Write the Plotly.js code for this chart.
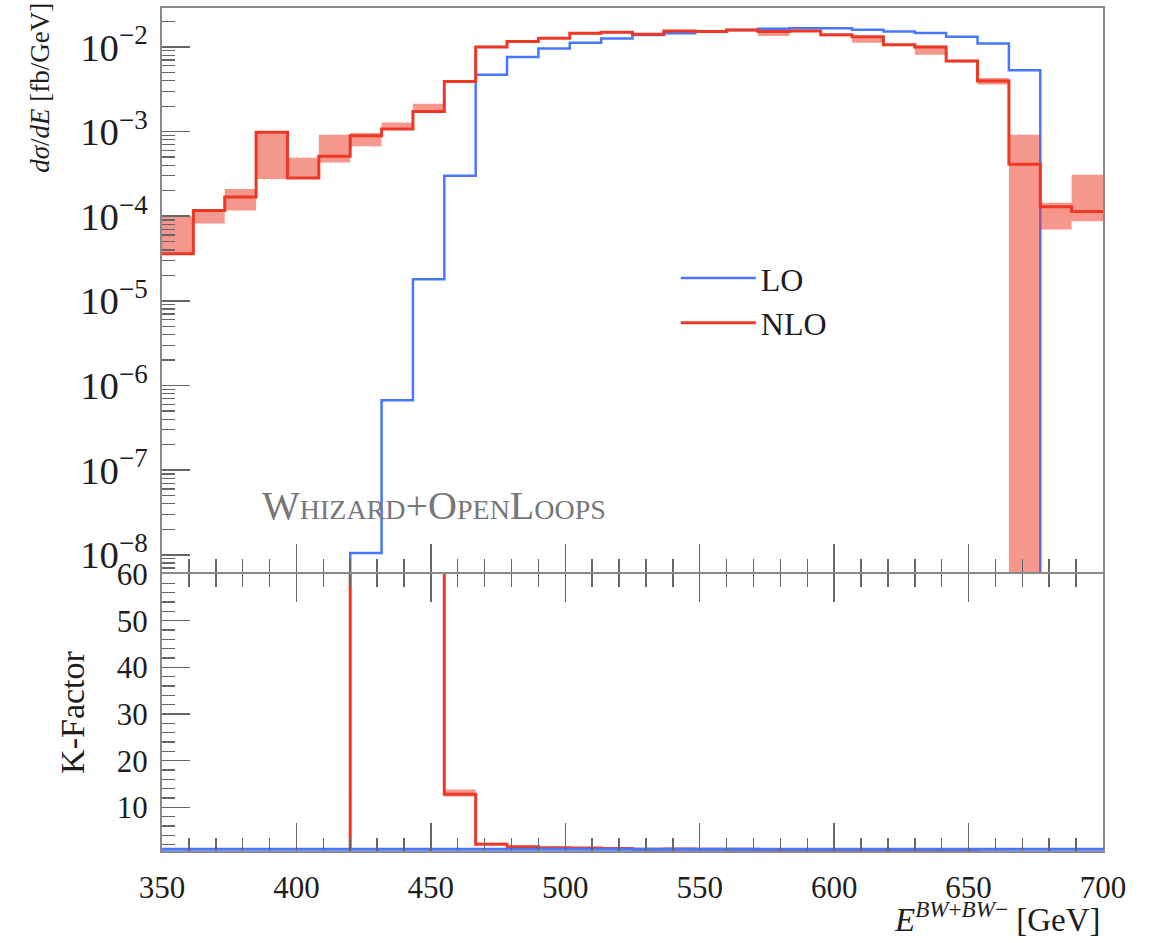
<!DOCTYPE html>
<html>
<head>
<meta charset="utf-8">
<script src="https://cdn.plot.ly/plotly-3.0.1.min.js"></script>
<style>html,body{margin:0;padding:0;background:#fff;}#plot{width:1154px;height:943px;}</style>
</head>
<body>
<div id="plot"></div>
<script>
// ---- binning ----
const eLow = 350, eHigh = 700, nBins = 30;

// ---- LO differential cross section [fb/GeV] (0 = empty bin) ----
const loValues = [0, 0, 0, 0, 0, 0, 1.05e-8, 6.7e-7, 1.8e-5, 3.0e-4,
  4.7e-3, 7.6e-3, 9.6e-3, 1.12e-2, 1.26e-2, 1.38e-2, 1.45e-2, 1.52e-2, 1.58e-2, 1.64e-2,
  1.66e-2, 1.66e-2, 1.60e-2, 1.52e-2, 1.46e-2, 1.32e-2, 1.10e-2, 5.3e-3, 0, 0];

// ---- NLO differential cross section [fb/GeV] with scale band ----
const nloValues = [3.6e-5, 1.17e-4, 1.69e-4, 9.8e-4, 2.83e-4, 5.1e-4, 8.9e-4, 1.07e-3, 1.73e-3, 3.9e-3,
  1.0e-2, 1.16e-2, 1.27e-2, 1.45e-2, 1.49e-2, 1.41e-2, 1.54e-2, 1.52e-2, 1.59e-2, 1.52e-2,
  1.54e-2, 1.39e-2, 1.32e-2, 1.06e-2, 1.0e-2, 6.8e-3, 3.97e-3, 4.1e-4, 1.29e-4, 1.14e-4];
const nloLow = [3.6e-5, 8.2e-5, 1.17e-4, 2.75e-4, 2.83e-4, 4.3e-4, 6.7e-4, 1.07e-3, 1.73e-3, 3.75e-3,
  0.97e-2, 1.13e-2, 1.24e-2, 1.41e-2, 1.45e-2, 1.37e-2, 1.50e-2, 1.46e-2, 1.53e-2, 1.35e-2,
  1.50e-2, 1.34e-2, 1.12e-2, 1.03e-2, 8.1e-3, 6.6e-3, 3.6e-3, 1e-12, 6.95e-5, 8.7e-5];
const nloHigh = [1.0e-4, 1.17e-4, 2.1e-4, 9.8e-4, 4.9e-4, 9.2e-4, 9.6e-4, 1.28e-3, 2.13e-3, 4.05e-3,
  1.03e-2, 1.19e-2, 1.30e-2, 1.49e-2, 1.53e-2, 1.45e-2, 1.58e-2, 1.56e-2, 1.63e-2, 1.56e-2,
  1.58e-2, 1.42e-2, 1.35e-2, 1.09e-2, 1.03e-2, 7.0e-3, 4.3e-3, 9.2e-4, 1.44e-4, 3.1e-4];

// ---- K-factor (NLO/LO); 0 where undefined ----
const kLO = Array(30).fill(1);
const kNLO = [0, 0, 0, 0, 0, 0, 85000, 1600, 96, 12.8,
  2.1, 1.55, 1.32, 1.29, 1.18, 1.02, 1.06, 1.0, 1.0, 0.93,
  0.92, 0.84, 0.83, 0.70, 0.68, 0.52, 0.36, 0.077, 0, 0];
const kNLOLow = [0, 0, 0, 0, 0, 0, 85000, 1600, 96, 12.3,
  2.0, 1.50, 1.28, 1.25, 1.14, 0.99, 1.03, 0.97, 0.97, 0.86,
  0.89, 0.81, 0.70, 0.68, 0.56, 0.50, 0.33, 0.0, 0, 0];
const kNLOHigh = [0, 0, 0, 0, 0, 0, 85000, 1600, 96, 13.8,
  2.4, 1.60, 1.36, 1.33, 1.22, 1.05, 1.09, 1.03, 1.03, 0.95,
  0.95, 0.86, 0.85, 0.72, 0.70, 0.54, 0.39, 0.17, 0, 0];

const legendLabels = ['LO', 'NLO'];

// ---- helpers ----
const edges = Array.from({length: nBins + 1}, (_, i) => eLow + i * (eHigh - eLow) / nBins);
const step = v => v.concat([v[v.length - 1]]);
const LOGFLOOR = 1e-12;
const logSafe = v => v.map(x => (x > 0 ? x : LOGFLOOR));

const BLUE = 'rgb(72,118,255)';
const RED = 'rgb(236,56,36)';
const BAND = 'rgba(236,56,36,0.52)';
const AXC = '#8a8a8a';
const TXT = '#1e1e1e';
const FONT = 'Liberation Serif, Times New Roman, serif';

const traces = [
  {x: edges, y: step(logSafe(loValues)), xaxis: 'x', yaxis: 'y', mode: 'lines',
   line: {shape: 'hv', color: BLUE, width: 2.5}, name: legendLabels[0], showlegend: true},
  {x: edges, y: step(logSafe(nloLow)), xaxis: 'x', yaxis: 'y', mode: 'lines',
   line: {shape: 'hv', width: 0, color: BAND}, showlegend: false, hoverinfo: 'skip'},
  {x: edges, y: step(logSafe(nloHigh)), xaxis: 'x', yaxis: 'y', mode: 'lines', fill: 'tonexty',
   fillcolor: BAND, line: {shape: 'hv', width: 0, color: BAND}, showlegend: false, hoverinfo: 'skip'},
  {x: edges, y: step(nloValues), xaxis: 'x', yaxis: 'y', mode: 'lines',
   line: {shape: 'hv', color: RED, width: 3}, name: legendLabels[1], showlegend: true},

  {x: edges, y: step(kNLOLow), xaxis: 'x2', yaxis: 'y2', mode: 'lines',
   line: {shape: 'hv', width: 0, color: BAND}, showlegend: false, hoverinfo: 'skip'},
  {x: edges, y: step(kNLOHigh), xaxis: 'x2', yaxis: 'y2', mode: 'lines', fill: 'tonexty',
   fillcolor: BAND, line: {shape: 'hv', width: 0, color: BAND}, showlegend: false, hoverinfo: 'skip'},
  {x: edges, y: step(kNLO), xaxis: 'x2', yaxis: 'y2', mode: 'lines',
   line: {shape: 'hv', color: RED, width: 3}, showlegend: false},
  {x: edges, y: step(kLO), xaxis: 'x2', yaxis: 'y2', mode: 'lines',
   line: {shape: 'hv', color: BLUE, width: 3}, showlegend: false}
];

const split = 0.3298;
const gap = 0.0012;
const tickFont = {family: FONT, size: 31, color: TXT};
const commonX = {
  range: [eLow, eHigh], showgrid: false, zeroline: false,
  showline: true, linecolor: AXC, linewidth: 2,
  ticks: 'inside', ticklen: 28, tickwidth: 1.5, tickcolor: '#666',
  tick0: 350, dtick: 50,
  minor: {ticks: 'inside', dtick: 10, ticklen: 13, tickwidth: 1.5, tickcolor: '#666', showgrid: false}
};

const layout = {
  width: 1154, height: 943,
  margin: {l: 162, r: 51, t: 8, b: 92},
  paper_bgcolor: '#fff', plot_bgcolor: '#fff',
  font: {family: FONT, color: TXT},
  showlegend: true,
  legend: {x: 0.546, y: 0.712, xanchor: 'left', yanchor: 'top', bgcolor: 'rgba(0,0,0,0)',
           traceorder: 'normal',
           font: {family: FONT, size: 32, color: TXT}, itemwidth: 75, tracegroupgap: 0},
  xaxis: Object.assign({}, commonX, {domain: [0, 1], anchor: 'y', mirror: true, showticklabels: false}),
  yaxis: {
    type: 'log', domain: [split + gap, 1], anchor: 'x', range: [-8.203, -1.54],
    showgrid: false, zeroline: false, showline: true, linecolor: AXC, linewidth: 2, mirror: true,
    ticks: 'inside', ticklen: 28, tickwidth: 1.5, tickcolor: '#666',
    tick0: 0, dtick: 1, exponentformat: 'power', showexponent: 'all',
    tickfont: tickFont, ticklabelstandoff: 6,
    minor: {ticks: 'inside', dtick: 'D1', ticklen: 13, tickwidth: 1.2, tickcolor: '#666', showgrid: false}
  },
  xaxis2: Object.assign({}, commonX, {domain: [0, 1], anchor: 'y2', mirror: 'ticks',
    tickfont: tickFont, ticklabelstandoff: 8}),
  yaxis2: {
    domain: [0, split - gap], anchor: 'x2', range: [0.65, 60],
    showgrid: false, zeroline: false, showline: true, linecolor: AXC, linewidth: 2, mirror: true,
    ticks: 'inside', ticklen: 28, tickwidth: 1.5, tickcolor: '#666',
    tick0: 0, dtick: 10, tickfont: tickFont, ticklabelstandoff: 6,
    minor: {ticks: 'inside', dtick: 2, ticklen: 13, tickwidth: 1.2, tickcolor: '#666', showgrid: false},
    title: {text: 'K-Factor', font: {family: FONT, size: 34, color: TXT}, standoff: 22}
  },
  annotations: [
    {xref: 'paper', yref: 'paper', x: -0.13, y: 0.905, xanchor: 'center', yanchor: 'middle',
     textangle: -90, showarrow: false,
     text: '<i>dσ</i>/<i>dE</i> [fb/GeV]', font: {family: FONT, size: 27, color: TXT}},
    {xref: 'paper', yref: 'paper', x: 1.0, y: -0.078, xanchor: 'right', yanchor: 'middle',
     showarrow: false,
     text: '<i>E</i><sup><i>BW</i>+<i>BW</i>−</sup> [GeV]', font: {family: FONT, size: 33, color: TXT}},
    {xref: 'paper', yref: 'paper', x: 0.289, y: 0.4104, xanchor: 'center', yanchor: 'middle',
     showarrow: false, text: 'Whizard+OpenLoops',
     font: {family: FONT, size: 40, color: '#777', variant: 'small-caps'}}
  ]
};

Plotly.newPlot('plot', traces, layout, {displayModeBar: false, staticPlot: true});
</script>
</body>
</html>
